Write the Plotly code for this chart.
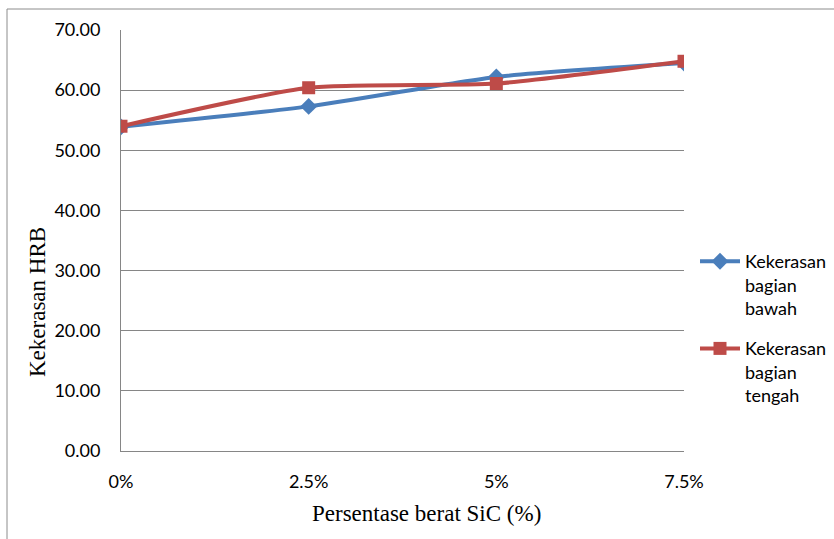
import plotly.graph_objects as go

categories = ["0%", "2.5%", "5%", "7.5%"]
x_pos = [0, 2.5, 5, 7.5]
bawah = [53.9, 57.3, 62.2, 64.5]
tengah = [54.0, 60.4, 61.1, 64.8]
y_ticks = [0, 10, 20, 30, 40, 50, 60, 70]
y_labels = ["%.2f" % v for v in y_ticks]

fig = go.Figure()
fig.add_trace(go.Scatter(
    x=x_pos, y=bawah, mode="lines+markers",
    name="Kekerasan<br>bagian<br>bawah", legendgroup="bawah",
    line=dict(color="#4A7EBB", width=4, shape="spline", smoothing=0.6),
    marker=dict(symbol="diamond", size=13, color="#4A7EBB"),
))
fig.add_trace(go.Scatter(
    x=x_pos, y=tengah, mode="lines+markers",
    name="Kekerasan<br>bagian<br>tengah", legendgroup="tengah",
    line=dict(color="#BE4B48", width=4, shape="spline", smoothing=0.6),
    marker=dict(symbol="square", size=13, color="#BE4B48"),
))

L, R, T, B = 121, 150, 30, 88
W, H = 834, 539
pw, ph = W - L - R, H - T - B

def px(xp):
    return (xp - L) / pw

def py(yp):
    return (H - B - yp) / ph

shapes = [
    dict(type="line", xref="paper", yref="paper", x0=px(7), x1=px(7), y0=py(9), y1=py(545),
         line=dict(color="#8c8c8c", width=1)),
    dict(type="line", xref="paper", yref="paper", x0=px(7), x1=px(840), y0=py(9), y1=py(9),
         line=dict(color="#8c8c8c", width=1)),
]

annotations = [
    dict(text="Kekerasan HRB", xref="paper", yref="paper", x=px(38), y=py(302),
         xanchor="center", yanchor="middle", textangle=-90, showarrow=False,
         font=dict(family="Liberation Serif, serif", size=23, color="#000")),
    dict(text="Persentase berat SiC (%)", xref="paper", yref="paper", x=px(426), y=py(513),
         xanchor="center", yanchor="middle", showarrow=False,
         font=dict(family="Liberation Serif, serif", size=23, color="#000")),
]

tick_font = dict(family="Lato, sans-serif", size=18, color="#000")

fig.update_layout(
    width=W, height=H,
    margin=dict(l=L, r=R, t=T, b=B, autoexpand=False),
    paper_bgcolor="white", plot_bgcolor="white",
    showlegend=True,
    legend=dict(x=px(695), y=py(243), xanchor="left", yanchor="top", valign="top",
                font=dict(family="Lato, sans-serif", size=18, color="#000"),
                tracegroupgap=14, itemwidth=40, bgcolor="rgba(0,0,0,0)"),
    shapes=shapes,
    annotations=annotations,
    xaxis=dict(
        range=[0, 7.5], tickmode="array", tickvals=x_pos, ticktext=categories,
        showgrid=False, zeroline=False, showline=True, linecolor="#868686", linewidth=1,
        ticks="", ticklabelstandoff=14, tickfont=tick_font,
    ),
    yaxis=dict(
        range=[0, 70], tickmode="array", tickvals=y_ticks, ticktext=y_labels,
        showgrid=True, gridcolor="#868686", gridwidth=1, zeroline=False,
        showline=True, linecolor="#868686", linewidth=1,
        ticks="", ticklabelstandoff=16, tickfont=tick_font,
    ),
)

fig.write_html("out.html")
